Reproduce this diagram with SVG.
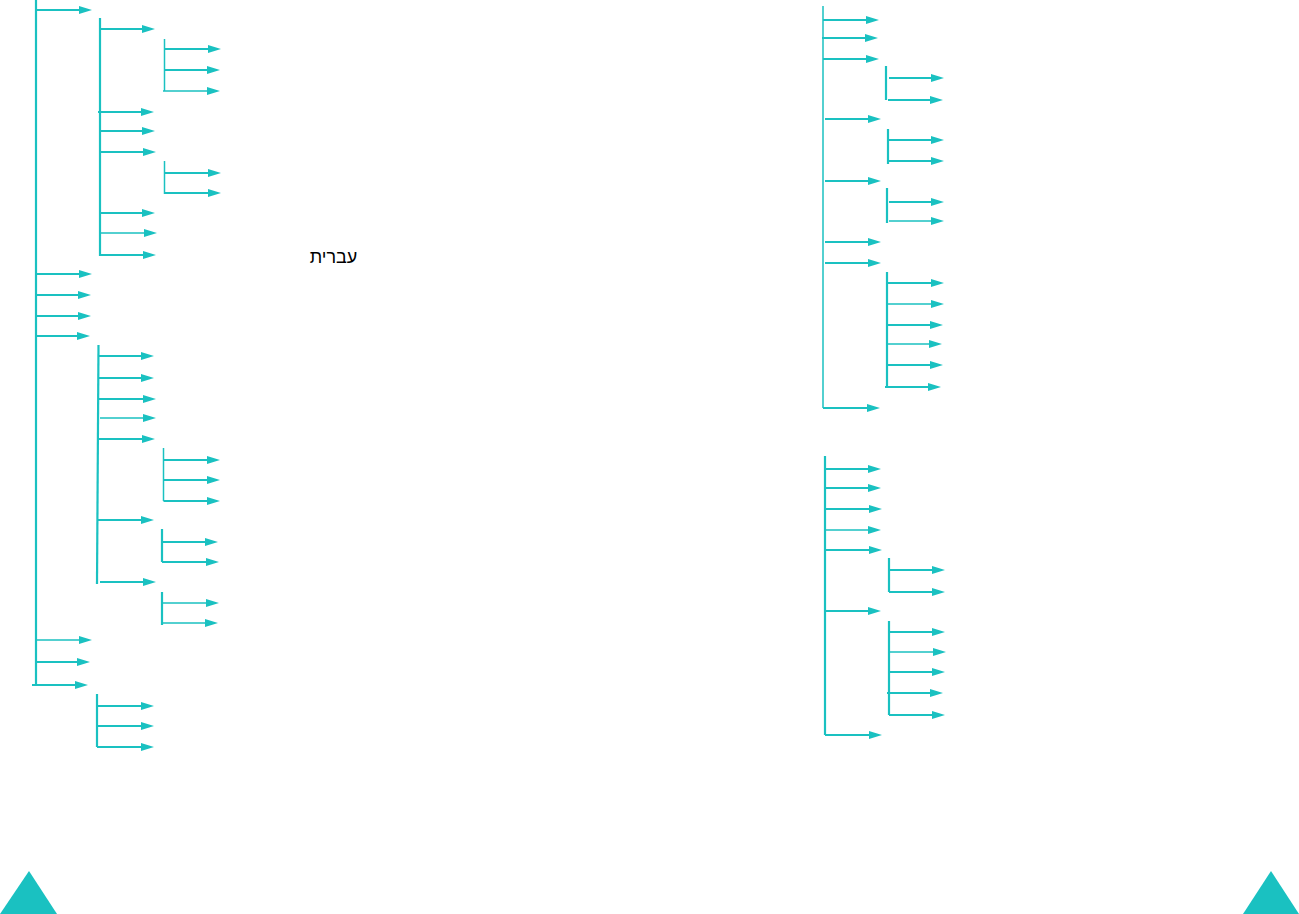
<svg xmlns="http://www.w3.org/2000/svg" width="1299" height="914" viewBox="0 0 1299 914">
<style>
.c path{fill:none;stroke:#1ac1c1;stroke-width:2.2}
.c .t{stroke-width:1.5}
.a{marker-end:url(#ah)}
.tri{fill:#1ac1c1}
.lbl{font-family:"Liberation Sans","DejaVu Sans",sans-serif;font-size:18px;fill:#000}
</style>
<defs>
<marker id="ah" markerUnits="userSpaceOnUse" markerWidth="14" markerHeight="10" refX="3" refY="4" orient="auto" overflow="visible">
<path d="M0,0 L13,4 L0,8 Z" fill="#1ac1c1"/>
</marker>
</defs>
<rect width="1299" height="914" fill="#fff"/>
<g id="connectors" class="c">
<!-- left main -->
<path d="M36 0V685"/>
<path class="a" d="M36 10H82"/>
<path class="a" d="M36 274H82"/>
<path class="a" d="M36 295H81"/>
<path class="a" d="M36 316H81"/>
<path class="a" d="M36 336H80"/>
<path class="a t" d="M36 640H82"/>
<path class="a" d="M36 662H80"/>
<path class="a" d="M32 685H78"/>
<!-- group A -->
<path d="M100 18V256"/>
<path class="a" d="M100 29H145"/>
<path class="a" d="M98 112H144"/>
<path class="a" d="M100 131H145"/>
<path class="a" d="M100 152H146"/>
<path class="a" d="M100 213H145"/>
<path class="a t" d="M100 233H147"/>
<path class="a" d="M100 255H146"/>
<path class="t" d="M164.5 39V91"/>
<path class="a" d="M164.5 49H211"/>
<path class="a" d="M164.5 70H210"/>
<path class="a t" d="M163 91H210"/>
<path class="t" d="M164.5 161V194"/>
<path class="a" d="M164.5 173H211"/>
<path class="a" d="M164.5 193H211"/>
<!-- group B -->
<path d="M98.5 345L97 584"/>
<path class="a" d="M98 356H144"/>
<path class="a" d="M98 378H144"/>
<path class="a" d="M98 399H146"/>
<path class="a t" d="M100 418H146"/>
<path class="a" d="M98 439H145"/>
<path class="a" d="M97 520H144"/>
<path class="a" d="M100 582H146"/>
<path class="t" d="M163.5 448V501"/>
<path class="a" d="M163.5 460H210"/>
<path class="a" d="M163.5 480H210"/>
<path class="a" d="M163.5 501H210"/>
<path d="M162 529V562"/>
<path class="a" d="M162 542H208"/>
<path class="a" d="M162 562H209"/>
<path d="M162 592V625"/>
<path class="a t" d="M162 603H209"/>
<path class="a t" d="M162 623H208"/>
<!-- group C -->
<path d="M97 694V747"/>
<path class="a" d="M97 706H144"/>
<path class="a" d="M97 726H144"/>
<path class="a" d="M97 747H144"/>
<!-- right top -->
<path class="t" d="M823 6V408"/>
<path class="a" d="M823 20H869"/>
<path class="a" d="M822 38H868"/>
<path class="a" d="M823 59H869"/>
<path class="a" d="M825 119H871"/>
<path class="a" d="M825 181H871"/>
<path class="a" d="M825 242H871"/>
<path class="a" d="M825 263H871"/>
<path class="a" d="M823 408H870"/>
<path d="M886 66V100"/>
<path class="a" d="M889 78H934"/>
<path class="a" d="M888 100H933"/>
<path d="M888 129V164"/>
<path class="a" d="M888 140H934"/>
<path class="a" d="M888 161H934"/>
<path d="M887 188V223"/>
<path class="a" d="M889 202H934"/>
<path class="a t" d="M889 221H934"/>
<path d="M887 272V387"/>
<path class="a" d="M887 283H934"/>
<path class="a t" d="M887 304H934"/>
<path class="a" d="M887 325H933"/>
<path class="a t" d="M887 344H932"/>
<path class="a" d="M887 365H933"/>
<path class="a" d="M885 387H931"/>
<!-- right bottom -->
<path d="M825 456V735"/>
<path class="a" d="M825 469H871"/>
<path class="a" d="M825 488H871"/>
<path class="a" d="M825 509H872"/>
<path class="a t" d="M825 530H871"/>
<path class="a" d="M825 550H872"/>
<path class="a" d="M825 611H871"/>
<path class="a" d="M825 735H872"/>
<path d="M889 558V592"/>
<path class="a" d="M889 570H935"/>
<path class="a" d="M889 592H935"/>
<path d="M889 621V715"/>
<path class="a" d="M889 632H935"/>
<path class="a t" d="M889 652H936"/>
<path class="a" d="M889 672H935"/>
<path class="a" d="M887 693H933"/>
<path class="a" d="M889 715H935"/>
</g>
<g id="label-hebrew">
<text class="lbl" x="333.5" y="263" text-anchor="middle">עברית</text>
</g>
<g id="triangle-left">
<polygon class="tri" points="29,871 57,914 0,914"/>
</g>
<g id="triangle-right">
<polygon class="tri" points="1271,871 1299,914 1243,914"/>
</g>
</svg>
